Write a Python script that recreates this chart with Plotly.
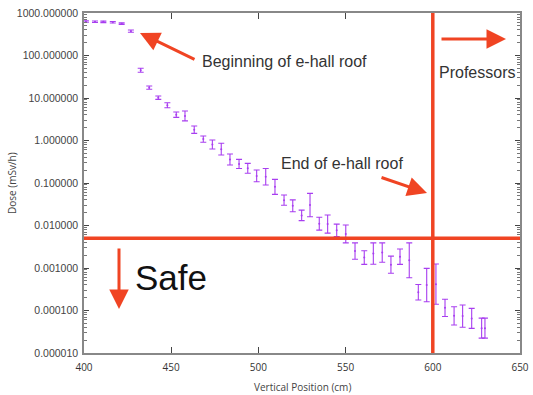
import plotly.graph_objects as go

# ---- data ----
position_cm = [401.1, 406.3, 411.1, 416.5, 421.6, 426.9, 432.5, 437.4, 442.6, 447.8,
               452.9, 457.9, 463.2, 468.4, 473.6, 478.7, 483.7, 488.9, 493.9, 499.0,
               504.2, 509.5, 514.7, 519.7, 524.8, 529.6, 534.9, 539.7, 544.9, 550.1,
               555.4, 560.7, 565.9, 571.0, 576.0, 581.2, 586.5, 591.7, 596.5, 601.8,
               607.0, 612.2, 617.1, 622.3, 628.0, 629.9]
dose_low = [605, 600, 595, 580, 540, 351, 40.3, 16.0, 9.3, 5.9,
            3.5, 2.9, 1.47, 0.91, 0.63, 0.456, 0.265, 0.22, 0.169, 0.107,
            0.09, 0.054, 0.030, 0.021, 0.013, 0.016, 0.0078, 0.0066, 0.0055, 0.0039,
            0.0016, 0.00122, 0.00123, 0.00136, 0.00075, 0.00122, 0.00059, 0.000177, 0.000161, 0.00014,
            0.0000724, 0.0000457, 0.0000403, 0.000038, 0.0000224, 0.0000224]
dose_high = [655, 650, 645, 630, 585, 398, 50.0, 19.1, 11.1, 7.7,
             4.69, 4.94, 2.19, 1.28, 1.03, 0.86, 0.48, 0.36, 0.29, 0.202,
             0.22, 0.122, 0.052, 0.040, 0.023, 0.057, 0.0156, 0.0177, 0.0108, 0.0103,
             0.0039, 0.00255, 0.0039, 0.0039, 0.0019, 0.0028, 0.0039, 0.00041, 0.00098, 0.00124,
             0.000184, 0.000123, 0.000135, 0.000112, 0.000066, 0.000066]
safe_limit = 0.005
professor_position = 600

dose_mid = [(lo * hi) ** 0.5 for lo, hi in zip(dose_low, dose_high)]
err_plus = [hi - m for hi, m in zip(dose_high, dose_mid)]
err_minus = [m - lo for lo, m in zip(dose_low, dose_mid)]

PURPLE = "#a83ef0"
RED = "#f04423"
SANS = "Liberation Sans"

# plot-area geometry in pixels (for annotation placement)
L, R, T, B = 84, 520, 13, 353
W, H = 533, 395


def px(xp):
    return (xp - L) / (R - L)


def py(yp):
    return (B - yp) / (B - T)


fig = go.Figure()
fig.add_trace(go.Scatter(
    x=position_cm, y=dose_mid, mode="markers",
    marker=dict(color=PURPLE, size=2),
    error_y=dict(type="data", symmetric=False, array=err_plus, arrayminus=err_minus,
                 color=PURPLE, thickness=1.1, width=3),
    showlegend=False, hoverinfo="skip",
))

# limit lines
fig.add_shape(type="line", xref="paper", x0=0, x1=1, yref="y", y0=safe_limit, y1=safe_limit,
              line=dict(color=RED, width=3.5))
fig.add_shape(type="line", xref="x", x0=professor_position, x1=professor_position,
              yref="paper", y0=0, y1=1, line=dict(color=RED, width=3.5))

annotations = []


def arrow(tail, head):
    annotations.append(dict(
        xref="paper", yref="paper", axref="pixel", ayref="pixel",
        x=px(head[0]), y=py(head[1]), ax=tail[0] - head[0], ay=tail[1] - head[1],
        text="", showarrow=True, arrowhead=2, arrowsize=1.3, arrowwidth=3,
        arrowcolor=RED, standoff=0, startstandoff=0))


def label(text, left, cy, size, color="#333"):
    annotations.append(dict(
        xref="paper", yref="paper", x=px(left), y=py(cy), xanchor="left", yanchor="middle",
        text=text, showarrow=False,
        font=dict(family=SANS, size=size, color=color)))


arrow((196, 60), (140, 33))
arrow((380, 177), (427, 193))
arrow((440, 39), (506, 39))
arrow((119, 247), (119, 309))

label("Beginning of e-hall roof", 200, 61, 16)
label("End of e-hall roof", 279, 163, 16)
label("Professors", 437, 72, 16)
label("Safe", 133, 277, 35, "#111")

# axis titles
annotations.append(dict(xref="paper", yref="paper", x=px(302), y=py(387),
                        text="Vertical Position (cm)", showarrow=False,
                        xanchor="center", yanchor="middle",
                        font=dict(family="Open Sans", size=10, color="#444")))
annotations.append(dict(xref="paper", yref="paper", x=px(12), y=py(183),
                        text="Dose (mSv/h)", showarrow=False, textangle=-90,
                        xanchor="center", yanchor="middle",
                        font=dict(family="Open Sans", size=10, color="#444")))

fig.update_layout(
    template="none",
    width=W, height=H,
    margin=dict(l=L, r=W - R, t=T, b=H - B, autoexpand=False),
    paper_bgcolor="white", plot_bgcolor="white",
    annotations=annotations,
    xaxis=dict(range=[400, 650], dtick=50, tick0=400, showgrid=False, zeroline=False,
               automargin=False,
               showline=True, linecolor="#888", linewidth=1.5, mirror="ticks",
               ticks="inside", ticklen=6, tickcolor="#444", tickwidth=1,
               ticklabelstandoff=4,
               tickfont=dict(family="Open Sans", size=10, color="#333")),
    yaxis=dict(type="log", range=[-5, 3], dtick=1, tickformat=".6f", showgrid=False,
               automargin=False,
               zeroline=False, showline=True, linecolor="#888", linewidth=1.5,
               mirror="ticks", ticks="inside", ticklen=5, tickcolor="#444", tickwidth=1,
               ticklabelstandoff=2,
               minor=dict(ticks="inside", ticklen=3, tickcolor="#777", dtick="D1", showgrid=False),
               tickfont=dict(family="Liberation Sans", size=10.5, color="#444")),
)

fig.write_html("out.html")
